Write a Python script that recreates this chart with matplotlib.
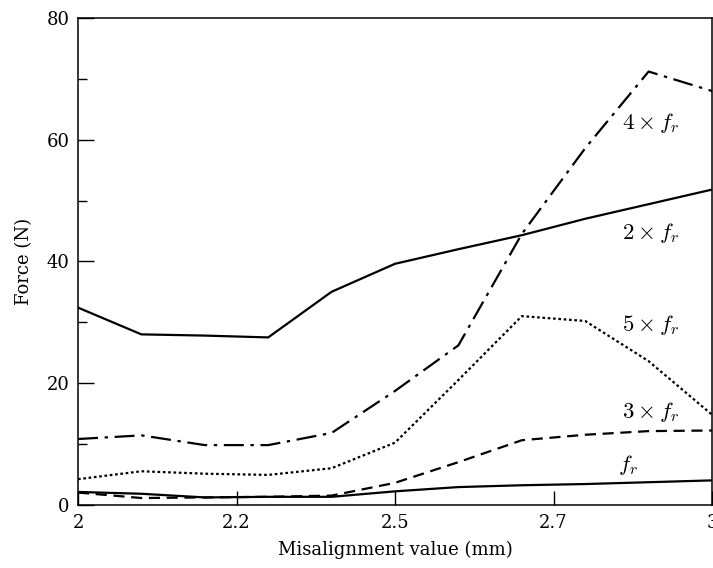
import matplotlib
matplotlib.use('Agg')
import matplotlib.pyplot as plt
import matplotlib.ticker as ticker

plt.rcParams['font.family'] = ['DejaVu Serif']
plt.rcParams['mathtext.fontset'] = 'cm'

# misalignment (mm)
x_mis = [2.0, 2.1, 2.2, 2.3, 2.4, 2.5, 2.6, 2.7, 2.8, 2.9, 3.0]
# force amplitude (N) at the harmonics of f_r
f_1x = [2.1, 1.8, 1.2, 1.3, 1.3, 2.2, 2.9, 3.2, 3.4, 3.7, 4.0]
f_2x = [32.4, 28.0, 27.8, 27.5, 35.0, 39.6, 42.0, 44.3, 47.0, 49.4, 51.8]
f_3x = [2.0, 1.1, 1.2, 1.3, 1.5, 3.6, 7.0, 10.6, 11.5, 12.1, 12.2]
f_4x = [10.8, 11.4, 9.8, 9.8, 11.8, 18.7, 26.2, 44.5, 58.6, 71.2, 68.0]
f_5x = [4.2, 5.5, 5.1, 4.9, 6.0, 10.2, 20.5, 31.0, 30.2, 23.6, 14.8]

xtick_pos = [2.0, 2.25, 2.5, 2.75, 3.0]
xtick_lab = ['2', '2.2', '2.5', '2.7', '3']

fig = plt.figure(figsize=(7.13, 5.68), dpi=100)
ax = fig.add_axes([0.1094, 0.1114, 0.8892, 0.8569])

lw = 1.6
ax.plot(x_mis, f_1x, color='black', linewidth=lw, linestyle='-')
ax.plot(x_mis, f_2x, color='black', linewidth=lw, linestyle='-')
ax.plot(x_mis, f_3x, color='black', linewidth=lw, linestyle=(0, (5, 3)))
ax.plot(x_mis, f_4x, color='black', linewidth=lw, linestyle=(0, (9, 3, 1.5, 3)))
ax.plot(x_mis, f_5x, color='black', linewidth=lw, linestyle=(0, (1.2, 1.2)))

# curve labels
tx = 2.858
fs = 16.5
ax.text(tx, 62.7, r'$4\times f_r$', fontsize=fs, va='center', ha='left')
ax.text(tx, 44.6, r'$2\times f_r$', fontsize=fs, va='center', ha='left')
ax.text(tx, 29.5, r'$5\times f_r$', fontsize=fs, va='center', ha='left')
ax.text(tx, 15.2, r'$3\times f_r$', fontsize=fs, va='center', ha='left')
ax.text(2.852, 6.5, r'$f_r$', fontsize=fs, va='center', ha='left')

ax.set_xlim(2.0, 3.0)
ax.set_ylim(0, 80)
ax.set_xticks(xtick_pos)
ax.set_xticklabels(xtick_lab)
ax.yaxis.set_major_locator(ticker.MultipleLocator(20))
ax.yaxis.set_minor_locator(ticker.MultipleLocator(10))
ax.tick_params(axis='both', which='major', direction='in', width=1.0,
               labelsize=13, top=False, right=False)
ax.tick_params(axis='y', which='major', length=11.5, pad=6)
ax.tick_params(axis='y', which='minor', direction='in', length=6.5, width=1.0)
ax.tick_params(axis='x', which='major', length=10, pad=7)
for sp in ax.spines.values():
    sp.set_linewidth(1.1)

ax.set_xlabel('Misalignment value (mm)', fontsize=13, labelpad=6)
ax.set_ylabel('Force (N)', fontsize=13, labelpad=10)

plt.savefig('out.png', dpi=100)
